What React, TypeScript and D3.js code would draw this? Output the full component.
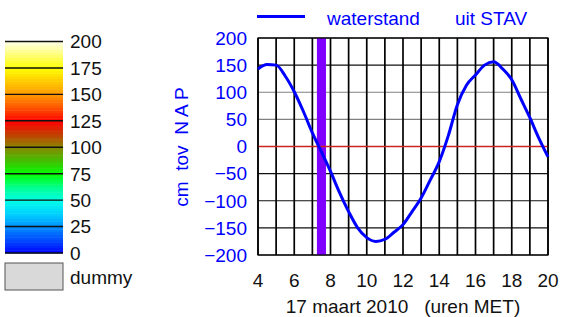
import React from "react";
import * as d3 from "d3";

// waterstand (cm t.o.v. NAP) per half uur, 17 maart 2010
const hours = [4, 4.5, 5, 5.5, 6, 6.5, 7, 7.5, 8, 8.5, 9, 9.5, 10, 10.5, 11, 11.5, 12, 12.5, 13, 13.5, 14, 14.5, 15, 15.5, 16, 16.5, 17, 17.5, 18, 18.5, 19, 19.5, 20];
const levels = [143, 151, 150, 130, 101, 65, 25, -10, -46, -85, -120, -150, -168, -175, -171, -158, -144, -120, -95, -62, -28, 20, 77, 113, 132, 150, 156, 143, 123, 88, 53, 15, -19];

const xTicks = [4, 6, 8, 10, 12, 14, 16, 18, 20];
const hourLines = d3.range(4, 21, 1);
const yTicks = [200, 150, 100, 50, 0, -50, -100, -150, -200];
const markerHours = [7.25, 7.75];

const legendTicks = [0, 25, 50, 75, 100, 125, 150, 175, 200];
const legendStops = [0, 12, 25, 37, 50, 62, 75, 87, 100, 112, 125, 137, 150, 162, 175, 187, 200];
const legendColors = ["#0000ff", "#0048ff", "#0090ff", "#00d0ff", "#00ffe8", "#00ff90", "#00ff00", "#40c000", "#888800", "#c04000", "#ff0000", "#ff5000", "#ff9800", "#ffc800", "#ffff00", "#ffff70", "#ffffe8"];

const font = "Liberation Sans, Arial, sans-serif";
const fs = 19;

export default function App() {
  const W = 562, H = 317;
  const x = d3.scaleLinear().domain([4, 20]).range([258, 548]);
  const y = d3.scaleLinear().domain([-200, 200]).range([255, 38]);

  const line = d3.line<number>()
    .x((_, i) => x(hours[i]))
    .y((d) => y(d))
    .curve(d3.curveMonotoneX);

  // kleurenbalk
  const ly = d3.scaleLinear().domain([0, 200]).range([253, 41.5]);
  const lc = d3.scaleLinear<string>().domain(legendStops).range(legendColors).interpolate(d3.interpolateRgb);
  const bands = d3.range(0, 200, 2.5);

  return (
    <svg width={W} height={H} style={{ position: "absolute", left: 0, top: 0, background: "#fff" }} fontFamily={font}>
      {/* legenda links */}
      {bands.map((b) => (
        <rect key={b} x={5} y={ly(b + 2.5)} width={58} height={ly(b) - ly(b + 2.5) + 0.5} fill={lc(b + 1.25)} />
      ))}
      {legendTicks.map((t) => (
        <g key={t}>
          <line x1={5} x2={63} y1={ly(t)} y2={ly(t)} stroke="#111" strokeWidth={1.4} />
          <text x={70} y={ly(t)} dy="0.36em" fontSize={fs} fill="#111">{t}</text>
        </g>
      ))}
      <rect x={5} y={263} width={58} height={27} fill="#d9d9d9" stroke="#555" strokeWidth={1} />
      <text x={70} y={277} dy="0.36em" fontSize={fs} fill="#111">dummy</text>

      {/* titel-legenda */}
      <line x1={257} x2={305} y1={16.5} y2={16.5} stroke="#0000ff" strokeWidth={3} />
      <text x={327} y={25} fontSize={fs} fill="#0000ff">waterstand</text>
      <text x={455} y={25} fontSize={fs} fill="#0000ff">uit STAV</text>

      {/* grid */}
      {yTicks.map((t) => (
        <line key={t} x1={x(4)} x2={x(20)} y1={y(t)} y2={y(t)} stroke={t === 100 || t === 50 ? "#808080" : "#111"} strokeWidth={1.2} />
      ))}
      {hourLines.map((h) => (
        <line key={h} x1={x(h)} x2={x(h)} y1={y(200)} y2={y(-200)} stroke="#000" strokeWidth={1.7} />
      ))}
      <rect x={x(markerHours[0])} y={y(200)} width={x(markerHours[1]) - x(markerHours[0])} height={y(-200) - y(200)} fill="#8000ff" />
      <line x1={x(4)} x2={x(20)} y1={y(0)} y2={y(0)} stroke="#cc2222" strokeWidth={1.6} />
      <rect x={x(4)} y={y(200)} width={x(20) - x(4)} height={y(-200) - y(200)} fill="none" stroke="#000" strokeWidth={1.2} />

      <path d={line(levels) ?? ""} fill="none" stroke="#0000ff" strokeWidth={3} strokeLinejoin="round" />

      {/* y-as */}
      {yTicks.map((t) => (
        <text key={t} x={247} y={y(t)} dy="0.36em" textAnchor="end" fontSize={fs} fill="#0000ff">
          {t < 0 ? "\u2212" + Math.abs(t) : t}
        </text>
      ))}
      <text transform={`translate(188,147) rotate(-90)`} textAnchor="middle" fontSize={fs} fill="#0000ff" style={{ whiteSpace: "pre" }}>
        {"cm  tov  N A P"}
      </text>

      {/* x-as */}
      {xTicks.map((t) => (
        <text key={t} x={x(t)} y={287} textAnchor="middle" fontSize={fs} fill="#111">{t}</text>
      ))}
      <text x={403} y={313} textAnchor="middle" fontSize={fs} fill="#111" style={{ whiteSpace: "pre" }}>
        {"17 maart 2010   (uren MET)"}
      </text>
    </svg>
  );
}
